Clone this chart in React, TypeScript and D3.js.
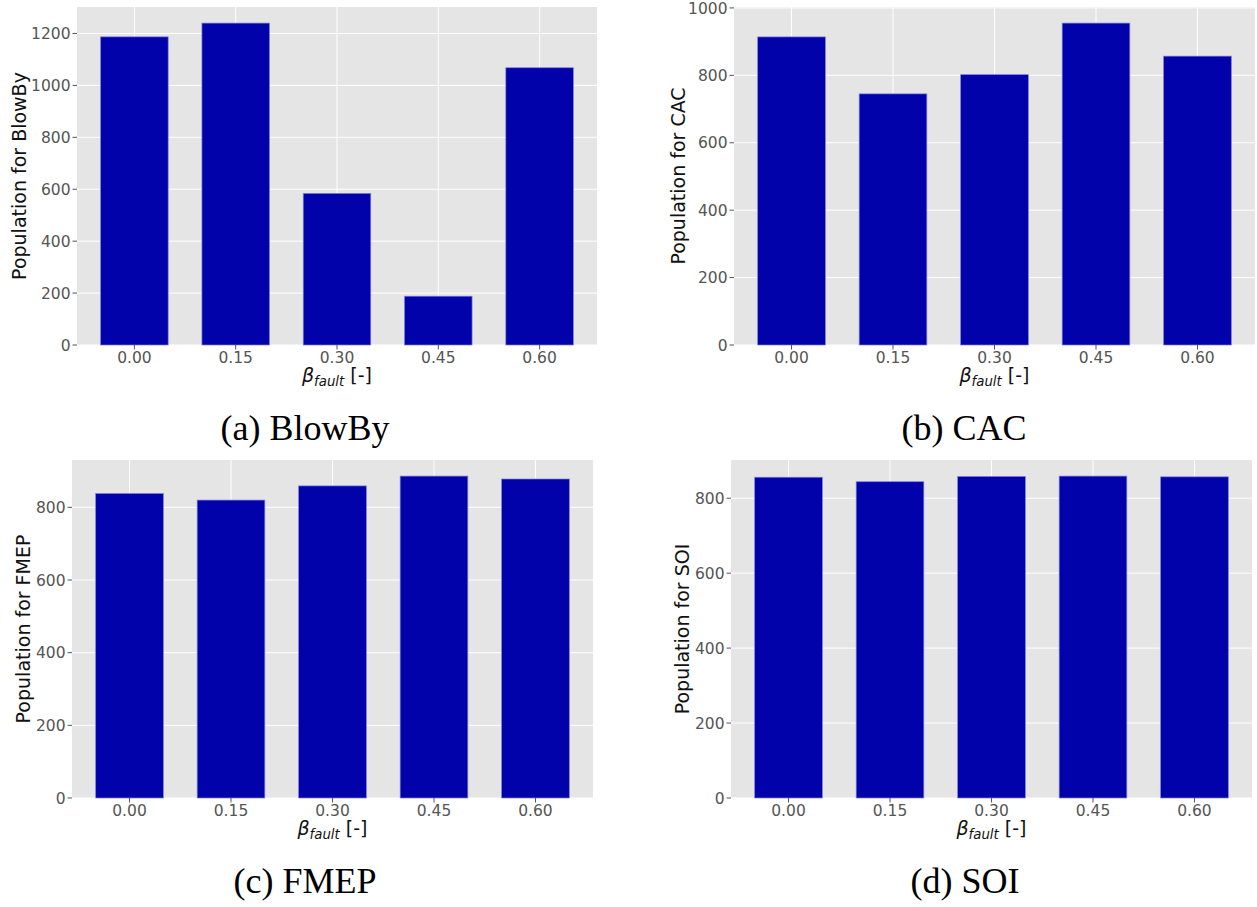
import React from "react";
import * as d3 from "d3";

const betaValues = [0.0, 0.15, 0.3, 0.45, 0.6];
const betaLabels = ["0.00", "0.15", "0.30", "0.45", "0.60"];

const blowByPop = [1187, 1240, 584, 188, 1068];
const cacPop = [914, 745, 802, 955, 857];
const fmepPop = [838, 820, 859, 886, 878];
const soiPop = [856, 844, 858, 859, 857];

const panelNames = ["BlowBy", "CAC", "FMEP", "SOI"];
const panelLetters = ["a", "b", "c", "d"];
const yTickStep = 200;

const BAR_COLOR = "#0202aa";
const BG = "#e5e5e5";
const TICK_COLOR = "#555555";

type PanelProps = {
  values: number[];
  name: string;
  letter: string;
  left: number;
  right: number;
  top: number;
  bottom: number;
  labelX: number;
  captionX: number;
  captionY: number;
};

function Panel({ values, name, letter, left, right, top, bottom, labelX, captionX, captionY }: PanelProps) {
  const barW = 0.1;
  const xMin = betaValues[0] - barW / 2;
  const xMax = betaValues[betaValues.length - 1] + barW / 2;
  const pad = (xMax - xMin) * 0.05;
  const x = d3.scaleLinear().domain([xMin - pad, xMax + pad]).range([left, right]);
  const yMax = (d3.max(values) as number) * 1.05;
  const y = d3.scaleLinear().domain([0, yMax]).range([bottom, top]);
  const yTicks = d3.range(0, yMax, yTickStep);
  const cx = (left + right) / 2;
  const cy = (top + bottom) / 2;
  return (
    <g>
      <rect x={left} y={top} width={right - left} height={bottom - top} fill={BG} />
      {yTicks.map((t) => (
        <line key={"gy" + t} x1={left} x2={right} y1={y(t)} y2={y(t)} stroke="#ffffff" strokeWidth={1} />
      ))}
      {betaValues.map((b) => (
        <line key={"gx" + b} x1={x(b)} x2={x(b)} y1={top} y2={bottom} stroke="#ffffff" strokeWidth={1} />
      ))}
      {values.map((v, i) => (
        <rect
          key={"bar" + i}
          x={x(betaValues[i] - barW / 2)}
          y={y(v)}
          width={x(betaValues[i] + barW / 2) - x(betaValues[i] - barW / 2)}
          height={y(0) - y(v)}
          fill={BAR_COLOR}
          stroke="#7d7de0"
          strokeWidth={0.7}
        />
      ))}
      {yTicks.map((t) => (
        <g key={"ty" + t}>
          <line x1={left - 4.5} x2={left} y1={y(t)} y2={y(t)} stroke={TICK_COLOR} strokeWidth={1} />
          <text
            x={left - 6.5}
            y={y(t)}
            dy="0.36em"
            textAnchor="end"
            fontFamily="DejaVu Sans"
            fontSize={15.5}
            fill={TICK_COLOR}
          >
            {String(t)}
          </text>
        </g>
      ))}
      {betaValues.map((b, i) => (
        <g key={"tx" + b}>
          <line x1={x(b)} x2={x(b)} y1={bottom} y2={bottom + 4.5} stroke={TICK_COLOR} strokeWidth={1} />
          <text
            x={x(b)}
            y={bottom + 17.5}
            textAnchor="middle"
            fontFamily="DejaVu Sans"
            fontSize={15.5}
            fill={TICK_COLOR}
          >
            {betaLabels[i]}
          </text>
        </g>
      ))}
      <text
        x={cx}
        y={bottom + 37}
        textAnchor="middle"
        fontFamily="DejaVu Sans"
        fontSize={19}
        fill="#111111"
      >
        <tspan fontStyle="italic">β</tspan>
        <tspan fontStyle="italic" fontSize={13.3} dy={4}>fault</tspan>
        <tspan dy={-4}> [-]</tspan>
      </text>
      <text
        transform={`translate(${labelX},${cy}) rotate(-90)`}
        textAnchor="middle"
        fontFamily="DejaVu Sans"
        fontSize={19}
        fill="#111111"
      >
        {"Population for " + name}
      </text>
      <text
        x={captionX}
        y={captionY}
        textAnchor="middle"
        fontFamily="Liberation Serif"
        fontSize={36}
        fill="#000000"
      >
        {`(${letter}) ${name}`}
      </text>
    </g>
  );
}

export default function App() {
  const series = [blowByPop, cacPop, fmepPop, soiPop];
  const layouts = [
    { left: 77, right: 597, top: 7, bottom: 345, labelX: 25.5, captionX: 305, captionY: 440 },
    { left: 734, right: 1255, top: 7, bottom: 345, labelX: 685, captionX: 964, captionY: 440 },
    { left: 72, right: 593, top: 460, bottom: 798, labelX: 30, captionX: 305, captionY: 893 },
    { left: 731, right: 1252, top: 460, bottom: 798, labelX: 688.5, captionX: 965, captionY: 893 },
  ];
  return (
    <svg
      width={1257}
      height={907}
      style={{ position: "absolute", left: 0, top: 0, background: "#ffffff" }}
    >
      {series.map((vals, i) => (
        <Panel key={i} values={vals} name={panelNames[i]} letter={panelLetters[i]} {...layouts[i]} />
      ))}
    </svg>
  );
}
